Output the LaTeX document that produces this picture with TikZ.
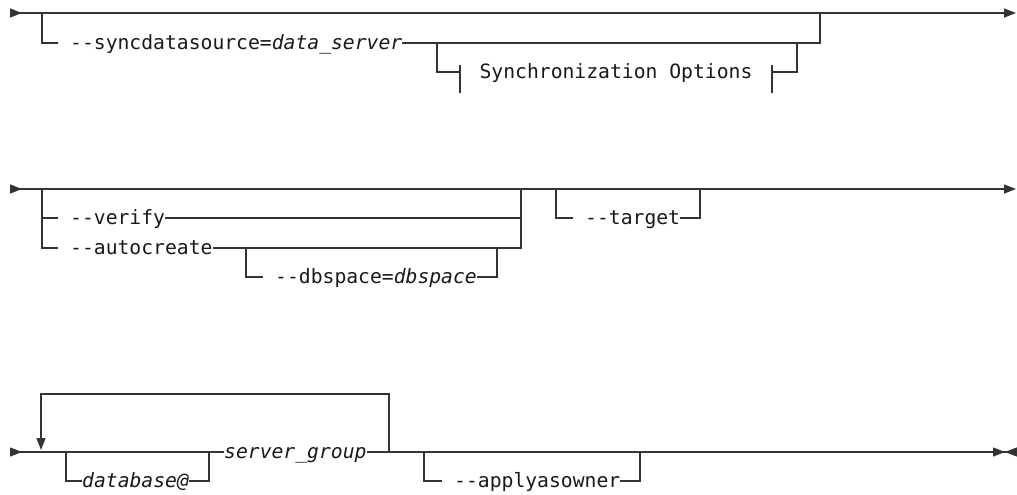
\documentclass[tikz,border=0pt]{standalone}
\usepackage{fontspec}
\setmonofont{DejaVu Sans Mono}[ItalicFont={DejaVu Sans Mono Oblique}]
\usetikzlibrary{arrows.meta, calc}
\newcommand{\vname}[1]{\textit{#1}}

\begin{document}
\begin{tikzpicture}[
    x=1pt, y=-1pt,
    rtip/.tip={Triangle[length=12pt, width=9pt]},
    rail/.style={line width=1.3pt, draw=black!80},
    kw/.style={anchor=west, inner sep=0pt, text height=17pt, text depth=4pt, text=black!90, font=\ttfamily\fontsize{19.7}{22}\selectfont},
    frag/.style={kw, anchor=center, inner xsep=19.5pt}
]
    \useasboundingbox (0,0) rectangle (1017,495);

    % first rail
    \coordinate (s1) at (10,13);
    \coordinate (e1) at (1016,13);
    \coordinate (b1) at (42,13);
    \coordinate (m1) at (820,13);
    \coordinate (b1s) at (437,43);
    \coordinate (m1s) at (797,43);
    \node[kw] (sds) at (70,43) {-{}-syncdatasource=\vname{data\_server}};
    \node[frag] (syn) at (616,72) {Synchronization Options};

    \draw[rail, arrows={rtip[reversed]-rtip}] (s1) -- (e1);
    \draw[rail] (b1) |- ([xshift=-12pt]sds.west);
    \draw[rail] (sds.east) -| (m1);
    \draw[rail] (b1s) |- (syn.west);
    \draw[rail] (syn.east) -| (m1s);
    \draw[rail] ([yshift=7pt]syn.west) -- ([yshift=-21pt]syn.west);
    \draw[rail] ([yshift=7pt]syn.east) -- ([yshift=-21pt]syn.east);

    % second rail
    \coordinate (s2) at (10,189);
    \coordinate (e2) at (1016,189);
    \coordinate (b2) at (42,189);
    \coordinate (m2) at (521,189);
    \coordinate (b2s) at (246,248);
    \coordinate (m2s) at (497,248);
    \coordinate (b3) at (556,189);
    \coordinate (m3) at (700,189);
    \node[kw] (ver) at (70,218) {-{}-verify};
    \node[kw] (acr) at (70,248) {-{}-autocreate};
    \node[kw] (dbs) at (275,277) {-{}-dbspace=\vname{dbspace}};
    \node[kw] (tgt) at (585,218) {-{}-target};

    \draw[rail, arrows={rtip[reversed]-rtip}] (s2) -- (e2);
    \draw[rail] (b2) |- ([xshift=-12pt]acr.west);
    \draw[rail] (b2 |- ver.west) -- ([xshift=-12pt]ver.west);
    \draw[rail] (ver.east) -| (m2);
    \draw[rail] (acr.east) -| (m2);
    \draw[rail] (b2s) |- ([xshift=-12pt]dbs.west);
    \draw[rail] (dbs.east) -| (m2s);
    \draw[rail] (b3) |- ([xshift=-12pt]tgt.west);
    \draw[rail] (tgt.east) -| (m3);

    % third rail
    \coordinate (s3) at (10,452);
    \coordinate (e3) at (1017,452);
    \coordinate (b6) at (41,452);
    \coordinate (m6) at (389,452);
    \coordinate (b4) at (66,452);
    \coordinate (m4) at (209,452);
    \coordinate (b5) at (424,452);
    \coordinate (m5) at (640,452);
    \node[kw] (sg) at (224,452) {\vname{server\_group}};
    \node[kw] (db) at (82,481) {\vname{database@}};
    \node[kw] (own) at (454,481) {-{}-applyasowner};

    \draw[rail, arrows={rtip[reversed]-}] (s3) -- (sg.west);
    \draw[rail, arrows={-{rtip[] rtip[reversed]}}] (sg.east) -- (e3);
    \draw[rail, arrows={-rtip}] (m6) -- ++(0,-58) -| ([yshift=2pt]b6);
    \draw[rail] (b4) |- (db.west);
    \draw[rail] (db.east) -| (m4);
    \draw[rail] (b5) |- ([xshift=-12pt]own.west);
    \draw[rail] (own.east) -| (m5);
\end{tikzpicture}
\end{document}
